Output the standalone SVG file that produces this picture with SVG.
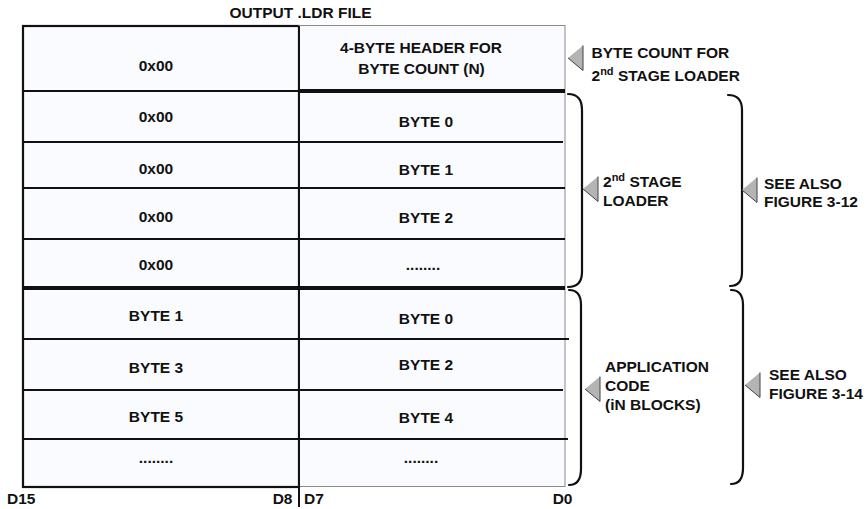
<svg xmlns="http://www.w3.org/2000/svg" width="868" height="509" viewBox="0 0 868 509">
<style>
text{font-family:"Liberation Sans",Arial,Helvetica,sans-serif;font-weight:bold;font-size:15.5px;fill:#111}
.c{text-anchor:middle}
.e{text-anchor:end}
.sup{font-size:11px}
.row{stroke:#111;stroke-width:2;fill:none}
.thick{stroke:#111;stroke-width:4;fill:none}
.brace{stroke:#111;stroke-width:2.2;fill:none;stroke-linecap:round}
.tri{fill:#b4b4b4;stroke:none}
.triedge{fill:none;stroke:#444;stroke-width:1}
</style>
<defs>
<g id="tri"><polygon class="tri" points="0,0 15,-12.5 15,12.5"/><polyline class="triedge" points="15,-12.5 15,12.5 0,0"/></g>
</defs>
<text class="c" x="300.5" y="17.5">OUTPUT .LDR FILE</text>
<g id="table">
<rect x="23" y="26" width="276" height="461" fill="#f9fbfe" stroke="#111" stroke-width="2.2"/>
<rect x="299" y="25.5" width="266" height="461" fill="#f9fbfe" stroke="#8a8a8a" stroke-width="1"/>
<line class="row" x1="299" y1="26" x2="299" y2="507"/>
<line class="row" x1="23" y1="91" x2="299" y2="91"/>
<line class="thick" x1="299" y1="91" x2="565" y2="91"/>
<line class="row" x1="23" y1="142" x2="563" y2="142"/>
<line class="row" x1="23" y1="188" x2="565" y2="188"/>
<line class="row" x1="23" y1="239" x2="565" y2="239"/>
<line class="thick" x1="22" y1="288" x2="565" y2="288"/>
<line class="row" x1="23" y1="339" x2="569" y2="339"/>
<line class="row" x1="23" y1="390" x2="563" y2="390"/>
<line class="row" x1="22" y1="439" x2="568" y2="439"/>
</g>
<g id="cells-left">
<text class="c" x="156" y="71">0x00</text>
<text class="c" x="156" y="122">0x00</text>
<text class="c" x="156" y="174">0x00</text>
<text class="c" x="156" y="222">0x00</text>
<text class="c" x="156" y="270">0x00</text>
<text class="c" x="156" y="321">BYTE 1</text>
<text class="c" x="156" y="373">BYTE 3</text>
<text class="c" x="156" y="422">BYTE 5</text>
<text class="c" x="156" y="463">........</text>
</g>
<g id="cells-right">
<text class="c" x="421" y="53">4-BYTE HEADER FOR</text>
<text class="c" x="421.5" y="73.5">BYTE COUNT (N)</text>
<text class="c" x="426" y="127">BYTE 0</text>
<text class="c" x="426" y="175">BYTE 1</text>
<text class="c" x="426" y="223">BYTE 2</text>
<text class="c" x="423" y="270">........</text>
<text class="c" x="426" y="324">BYTE 0</text>
<text class="c" x="426" y="370">BYTE 2</text>
<text class="c" x="426" y="423">BYTE 4</text>
<text class="c" x="421" y="463">........</text>
</g>
<g id="bits">
<text x="7" y="504">D15</text>
<text class="e" x="292.5" y="504">D8</text>
<text x="304" y="504">D7</text>
<text class="e" x="572.5" y="504">D0</text>
</g>
<g id="connectors">
<path class="brace" d="M568,94 Q582,94 582,110 V272 Q582,287 568,287"/>
<path class="brace" d="M728,95 Q742,95 742,110 V272 Q742,286 730,286"/>
<path class="brace" d="M569,290 Q581,290 581,305 V469 Q581,485 569,485"/>
<path class="brace" d="M731,290 Q743,290 743,305 V468 Q743,484 731,484"/>
<use href="#tri" x="568" y="58"/>
<use href="#tri" x="583" y="189"/>
<use href="#tri" x="742" y="190"/>
<use href="#tri" x="585" y="389"/>
<use href="#tri" x="745" y="385"/>
</g>
<g id="label-bytecount">
<text x="591.5" y="58">BYTE COUNT FOR</text>
<text x="591.5" y="81">2<tspan class="sup" dy="-6">nd</tspan><tspan dy="6"> STAGE LOADER</tspan></text>
</g>
<g id="label-stage2">
<text x="603" y="187">2<tspan class="sup" dy="-6">nd</tspan><tspan dy="6"> STAGE</tspan></text>
<text x="603" y="206">LOADER</text>
</g>
<g id="label-fig312">
<text x="764" y="188.5">SEE ALSO</text>
<text x="764" y="207">FIGURE 3-12</text>
</g>
<g id="label-app">
<text x="605" y="372">APPLICATION</text>
<text x="605" y="391">CODE</text>
<text x="605" y="410">(iN BLOCKS)</text>
</g>
<g id="label-fig314">
<text x="769" y="380">SEE ALSO</text>
<text x="769" y="398.5">FIGURE 3-14</text>
</g>
</svg>
